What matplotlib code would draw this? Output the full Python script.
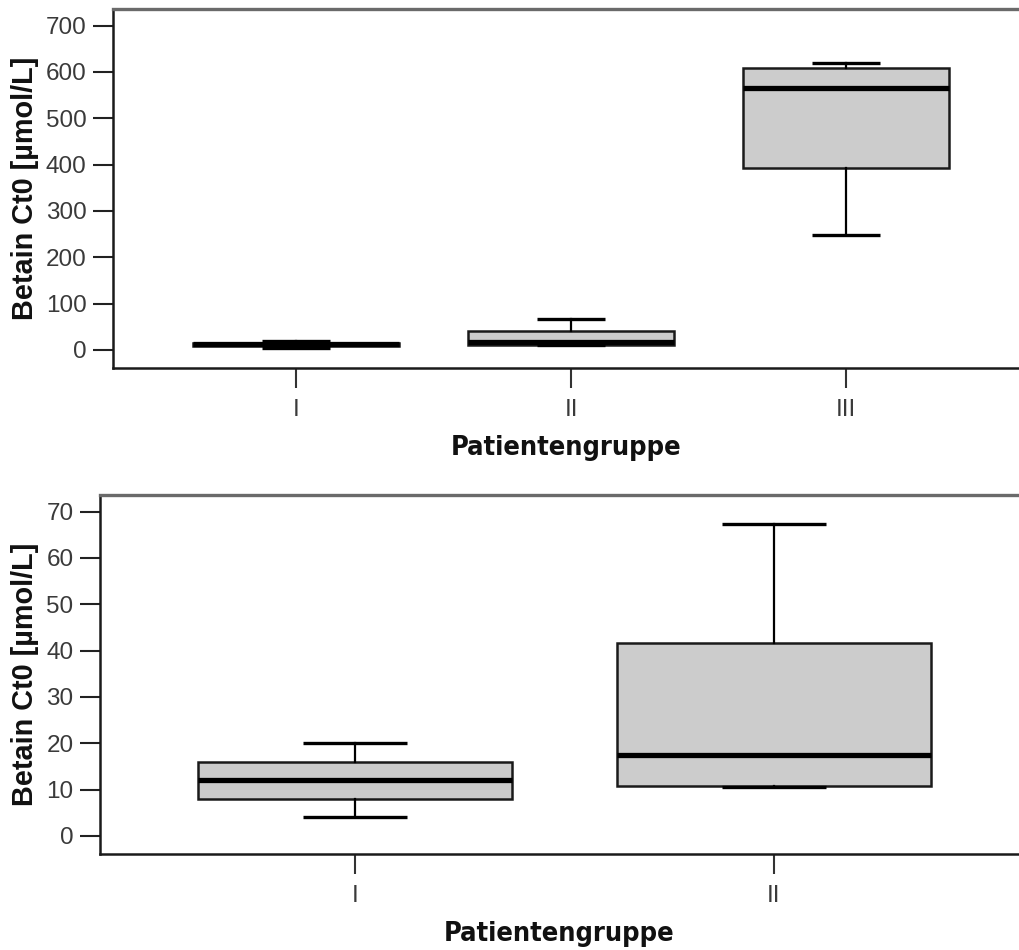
import matplotlib
matplotlib.use("Agg")
import matplotlib.pyplot as plt

# Betain Ct0 five-number summaries per patient group [µmol/L]
groups_all = ["I", "II", "III"]
whislo_all = [4.1, 10.5, 248]
q1_all = [8.0, 10.8, 393]
med_all = [12.1, 17.5, 566]
q3_all = [16.0, 41.7, 609]
whishi_all = [20.1, 67.4, 620]

groups_sub = ["I", "II"]
whislo_sub = [4.1, 10.5]
q1_sub = [8.0, 10.8]
med_sub = [12.1, 17.5]
q3_sub = [16.0, 41.7]
whishi_sub = [20.1, 67.4]

yticks_all = [0, 100, 200, 300, 400, 500, 600, 700]
yticks_sub = [0, 10, 20, 30, 40, 50, 60, 70]

W, H, DPI = 1019, 950, 100
fig = plt.figure(figsize=(W / DPI, H / DPI), dpi=DPI)

TICK_FONT = dict(family="Liberation Sans", size=17.5, color="#3a3a3a")
YLAB_FONT = dict(family="Liberation Sans", size=20.8, weight="bold", color="#111111")
XLAB_FONT = dict(family="DejaVu Sans", size=19.5, weight="bold", stretch="condensed", color="#111111")


def stats(groups, lo, q1, med, q3, hi):
    return [dict(label=g, whislo=a, q1=b, med=c, q3=d, whishi=e, fliers=[])
            for g, a, b, c, d, e in zip(groups, lo, q1, med, q3, hi)]


def draw(ax, st, xlim, ylim, yticks, ylab_x, xlab_y):
    ax.bxp(st, positions=range(1, len(st) + 1), widths=0.75, capwidths=0.25,
           patch_artist=True, showfliers=False,
           boxprops=dict(facecolor="#cccccc", edgecolor="#1a1a1a", linewidth=1.8),
           medianprops=dict(color="black", linewidth=3.8, solid_capstyle="butt"),
           whiskerprops=dict(color="black", linewidth=1.6),
           capprops=dict(color="black", linewidth=2.4, solid_capstyle="butt"))
    ax.set_xlim(*xlim)
    ax.set_ylim(*ylim)
    ax.set_yticks(yticks)
    ax.set_xticks(range(1, len(st) + 1))
    ax.set_xticklabels([s["label"] for s in st])
    for lab in ax.get_xticklabels() + ax.get_yticklabels():
        lab.set(**TICK_FONT)
    ax.tick_params(axis="y", length=14.5, width=1.5, color="#222222", pad=4.5)
    ax.tick_params(axis="x", length=14.5, width=1.5, color="#333333", pad=8)
    ax.spines["right"].set_visible(False)
    ax.spines["top"].set_color("#6a6a6a")
    ax.spines["top"].set_linewidth(2.4)
    ax.spines["left"].set_color("#1a1a1a")
    ax.spines["left"].set_linewidth(1.8)
    ax.spines["bottom"].set_color("#1a1a1a")
    ax.spines["bottom"].set_linewidth(1.8)
    ax.set_ylabel("Betain Ct0 [µmol/L]", **YLAB_FONT)
    ax.set_xlabel("Patientengruppe", **XLAB_FONT)
    ax.yaxis.set_label_coords(ylab_x, 0.5)
    ax.xaxis.set_label_coords(0.5, xlab_y)


# upper panel: all three groups
ax1 = fig.add_axes([113 / W, 1 - 368 / H, 1 - 113 / W, (368 - 9) / H])
draw(ax1, stats(groups_all, whislo_all, q1_all, med_all, q3_all, whishi_all),
     (0.3345, 3.629), (-39, 736), yticks_all, -0.082, -0.188)

# lower panel: groups I and II
ax2 = fig.add_axes([100 / W, 1 - 854 / H, 1 - 100 / W, (854 - 495) / H])
draw(ax2, stats(groups_sub, whislo_sub, q1_sub, med_sub, q3_sub, whishi_sub),
     (0.391, 2.585), (-3.9, 73.6), yticks_sub, -0.066, -0.188)

fig.savefig("out.png", dpi=DPI, facecolor="white")
